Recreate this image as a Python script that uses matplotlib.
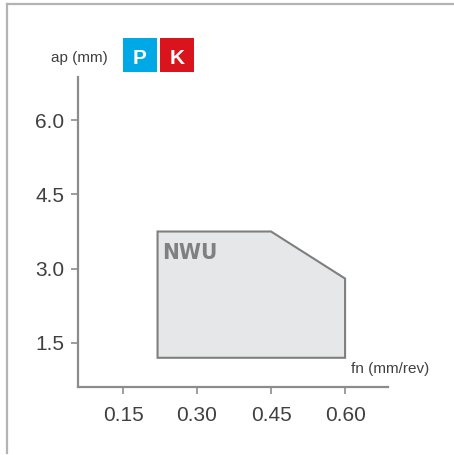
import matplotlib
matplotlib.use("Agg")
import matplotlib.pyplot as plt
from matplotlib.patches import Polygon, Rectangle
from matplotlib.lines import Line2D

# Chipbreaker application area (feed fn vs. depth of cut ap)
fn_vals = [0.22, 0.45, 0.60, 0.60, 0.22]
ap_vals = [3.75, 3.75, 2.80, 1.20, 1.20]
area_label = "NWU"

x_ticks = [0.15, 0.30, 0.45, 0.60]
x_ticklabels = ["0.15", "0.30", "0.45", "0.60"]
y_ticks = [1.5, 3.0, 4.5, 6.0]
y_ticklabels = ["1.5", "3.0", "4.5", "6.0"]

badges = ["P", "K"]
badge_colors = ["#00a9e6", "#d9141c"]

W, H = 454, 455
fig = plt.figure(figsize=(W / 100, H / 100), dpi=100)
fig.patch.set_facecolor("white")

font = ["Liberation Sans", "DejaVu Sans"]
text_col = "#404040"
axis_col = "#8c8c8c"

# axes placed in pixel terms
ax_l, ax_r, ax_t, ax_b = 78, 388, 77, 387
ax = fig.add_axes([ax_l / W, 1 - ax_b / H, (ax_r - ax_l) / W, (ax_b - ax_t) / H])
ax.set_xlim(0.0588, 0.687)
ax.set_ylim(0.61, 6.87)
ax.set_facecolor("none")

for s in ("top", "right"):
    ax.spines[s].set_visible(False)
for s in ("left", "bottom"):
    ax.spines[s].set_color(axis_col)
    ax.spines[s].set_linewidth(1.6)

ax.set_xticks(x_ticks)
ax.set_xticklabels(x_ticklabels)
ax.set_yticks(y_ticks)
ax.set_yticklabels(y_ticklabels)
ax.tick_params(axis="both", colors=axis_col, length=5, width=1.2,
               labelcolor=text_col, labelsize=15)
ax.tick_params(axis="x", pad=8.5)
ax.tick_params(axis="y", pad=5)
for lab in ax.get_xticklabels() + ax.get_yticklabels():
    lab.set_family(font)

poly = Polygon(list(zip(fn_vals, ap_vals)), closed=True,
               facecolor="#e6e7e8", edgecolor="#7f7f7f", linewidth=1.5, zorder=2)
ax.add_patch(poly)
ax.text(0.229, 3.19, area_label, fontsize=16, fontweight="bold", fontstretch="condensed",
        color="#808080", family="DejaVu Sans", ha="left", va="baseline", zorder=3)

# axis titles
fig.text(79 / W, 1 - 62 / H, "ap (mm)", fontsize=11, color=text_col,
         family=font, ha="center", va="baseline")
fig.text(351 / W, 1 - 373 / H, "fn (mm/rev)", fontsize=11, color=text_col,
         family=font, ha="left", va="baseline")

# material group badges
bx = [123, 160]
for x0, letter, col in zip(bx, badges, badge_colors):
    fig.patches.append(Rectangle((x0 / W, 1 - 72 / H), 34 / W, 34 / H,
                                 transform=fig.transFigure, facecolor=col,
                                 edgecolor="none"))
    fig.text((x0 + 17) / W, 1 - 64 / H, letter, fontsize=15, fontweight="bold",
             color="white", family=font, ha="center", va="baseline")

# frame lines (top and left)
frame_col = "#b3b3b3"
fig.lines.append(Line2D([6.5 / W, 1], [1 - 4 / H, 1 - 4 / H], transform=fig.transFigure,
                        color=frame_col, linewidth=1.6))
fig.lines.append(Line2D([6.5 / W, 6.5 / W], [1 - 4 / H, 1 - 453 / H], transform=fig.transFigure,
                        color=frame_col, linewidth=1.6))

fig.savefig("out.png", dpi=100, facecolor="white")
